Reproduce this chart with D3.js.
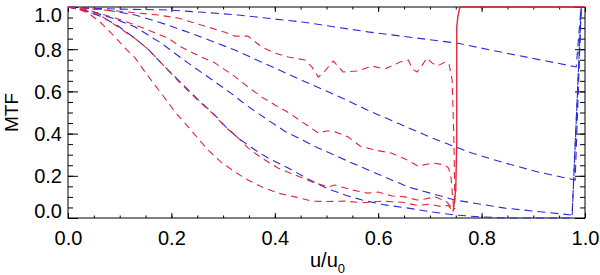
<!DOCTYPE html>
<html>
<head>
<meta charset="utf-8">
<script src="https://cdn.jsdelivr.net/npm/d3@7"></script>
<style>
  body { margin: 0; background: #fff; }
  svg { font-family: "Liberation Sans", Arial, sans-serif; }
</style>
</head>
<body>
<div id="chart"></div>
<script>
// ticks
const xMajor = [0, 0.2, 0.4, 0.6, 0.8, 1.0];
const yMajor = [0, 0.2, 0.4, 0.6, 0.8, 1.0];
const minorTicks = d3.range(0, 1.0001, 0.05).map((v) => +v.toFixed(2));

// theoretical curves (blue), [u/u0, MTF]
const blue1 = [[0, 1], [0.039, 0.995], [0.1, 0.99], [0.193, 0.986], [0.255, 0.976], [0.329, 0.962],
  [0.453, 0.929], [0.58, 0.882], [0.642, 0.863], [0.752, 0.829], [0.85, 0.78], [0.983, 0.716], [0.993, 1.02]];
const blue2 = [[0, 1], [0.064, 0.99], [0.13, 0.962], [0.193, 0.915], [0.257, 0.858], [0.323, 0.796],
  [0.387, 0.725], [0.453, 0.652], [0.52, 0.58], [0.588, 0.502], [0.646, 0.441], [0.704, 0.379],
  [0.781, 0.308], [0.845, 0.261], [0.909, 0.218], [0.981, 0.18], [0.993, 1.02]];
const blue3 = [[0, 1], [0.05, 0.975], [0.097, 0.938], [0.13, 0.905], [0.18, 0.829], [0.232, 0.735],
  [0.271, 0.668], [0.315, 0.592], [0.337, 0.55], [0.362, 0.505], [0.42, 0.41], [0.484, 0.332],
  [0.549, 0.261], [0.613, 0.194], [0.658, 0.147], [0.749, 0.085], [0.845, 0.047], [0.975, 0.014], [0.993, 1.02]];
const blue4 = [[0, 1], [0.03, 0.985], [0.064, 0.955], [0.097, 0.91], [0.13, 0.85], [0.155, 0.8],
  [0.18, 0.735], [0.213, 0.655], [0.25, 0.565], [0.283, 0.49], [0.304, 0.435], [0.329, 0.379],
  [0.362, 0.322], [0.387, 0.284], [0.426, 0.237], [0.464, 0.185], [0.503, 0.138], [0.536, 0.109],
  [0.569, 0.085], [0.613, 0.062], [0.658, 0.047], [0.7, 0.03], [0.749, 0.014], [0.8, 0.005],
  [0.845, 0], [0.975, 0], [0.993, 1.02]];

// measured curves (red)
const red1 = [[0, 1], [0.05, 0.99], [0.1, 0.98], [0.174, 0.962], [0.213, 0.948], [0.238, 0.929],
  [0.271, 0.905], [0.304, 0.88], [0.323, 0.862], [0.348, 0.862], [0.375, 0.81], [0.4, 0.782],
  [0.426, 0.763], [0.458, 0.749], [0.472, 0.715], [0.484, 0.668], [0.498, 0.7], [0.513, 0.744],
  [0.532, 0.692], [0.561, 0.697], [0.588, 0.72], [0.613, 0.706], [0.642, 0.739], [0.658, 0.749],
  [0.667, 0.705], [0.675, 0.692], [0.684, 0.72], [0.694, 0.758], [0.704, 0.735], [0.714, 0.72],
  [0.729, 0.739], [0.737, 0.73], [0.743, 0.654], [0.745, 0.5], [0.747, 0.3], [0.748, 0.1], [0.748, 0.04]];
const red2 = [[0, 1], [0.04, 0.985], [0.091, 0.948], [0.13, 0.915], [0.155, 0.891], [0.193, 0.853],
  [0.219, 0.81], [0.25, 0.772], [0.271, 0.749], [0.284, 0.735], [0.323, 0.67], [0.348, 0.621],
  [0.375, 0.573], [0.4, 0.536], [0.426, 0.5], [0.453, 0.455], [0.484, 0.403], [0.5, 0.412],
  [0.513, 0.412], [0.542, 0.384], [0.565, 0.341], [0.594, 0.322], [0.625, 0.308], [0.652, 0.28],
  [0.677, 0.246], [0.706, 0.261], [0.729, 0.251], [0.736, 0.237], [0.741, 0.19], [0.744, 0.1], [0.746, 0.04]];
const red3 = [[0, 1], [0.03, 0.985], [0.064, 0.958], [0.097, 0.905], [0.13, 0.85], [0.155, 0.8],
  [0.18, 0.735], [0.213, 0.65], [0.25, 0.56], [0.283, 0.488], [0.304, 0.432], [0.329, 0.38],
  [0.348, 0.332], [0.375, 0.284], [0.406, 0.237], [0.439, 0.204], [0.472, 0.171], [0.503, 0.147],
  [0.516, 0.156], [0.549, 0.133], [0.58, 0.118], [0.6, 0.123], [0.627, 0.104], [0.652, 0.1],
  [0.675, 0.085], [0.69, 0.09], [0.71, 0.1], [0.731, 0.08], [0.742, 0.05], [0.746, 0.035]];
const red4 = [[0, 1], [0.02, 0.99], [0.039, 0.972], [0.064, 0.924], [0.091, 0.858], [0.11, 0.806],
  [0.13, 0.758], [0.149, 0.692], [0.168, 0.63], [0.193, 0.55], [0.207, 0.502], [0.226, 0.45],
  [0.246, 0.393], [0.271, 0.322], [0.296, 0.265], [0.323, 0.218], [0.348, 0.18], [0.375, 0.147],
  [0.406, 0.118], [0.439, 0.1], [0.472, 0.08], [0.503, 0.078], [0.536, 0.08], [0.569, 0.072],
  [0.607, 0.08], [0.646, 0.075], [0.675, 0.06], [0.7, 0.065], [0.72, 0.055], [0.735, 0.06],
  [0.742, 0.04], [0.746, 0.03]];

// cutoff edge of the measured curves (solid red)
const redEdge = [[0.745, 0.03], [0.75, 0.133], [0.752, 0.37], [0.752, 0.905], [0.754, 0.953],
  [0.758, 1.0], [1.0, 1.0]];

const blueSeries = [blue1, blue2, blue3, blue4];
const redSeries = [red1, red2, red3, red4];

const W = 600, H = 275;
const margin = { left: 68, right: 585, top: 7, bottom: 218 };

const svg = d3.select("#chart").append("svg").attr("width", W).attr("height", H);

const x = d3.scaleLinear().domain([0, 1]).range([margin.left, margin.right]);
const y = d3.scaleLinear().domain([0, 1]).range([margin.bottom, margin.top]);

// frame
svg.append("rect")
  .attr("x", margin.left).attr("y", margin.top)
  .attr("width", margin.right - margin.left).attr("height", margin.bottom - margin.top)
  .attr("fill", "none").attr("stroke", "#000").attr("stroke-width", 1);

const styleAxis = (g) => {
  g.select(".domain").remove();
  g.selectAll("line").attr("stroke", "#000");
  g.selectAll("text").attr("font-size", 20).attr("fill", "#000")
    .attr("font-family", "'Liberation Sans', Arial, sans-serif");
};

// bottom axis
svg.append("g").attr("transform", `translate(0,${margin.bottom})`)
  .call(d3.axisBottom(x).tickValues(xMajor).tickSize(-5).tickPadding(13).tickFormat(d3.format(".1f")))
  .call(styleAxis);
svg.append("g").attr("transform", `translate(0,${margin.bottom})`)
  .call(d3.axisBottom(x).tickValues(minorTicks).tickSize(-2.5).tickFormat(""))
  .call(styleAxis);
// top axis
svg.append("g").attr("transform", `translate(0,${margin.top})`)
  .call(d3.axisTop(x).tickValues(xMajor).tickSize(-5).tickFormat(""))
  .call(styleAxis);
svg.append("g").attr("transform", `translate(0,${margin.top})`)
  .call(d3.axisTop(x).tickValues(minorTicks).tickSize(-2.5).tickFormat(""))
  .call(styleAxis);

// left axis
const yAx = svg.append("g").attr("transform", `translate(${margin.left},0)`)
  .call(d3.axisLeft(y).tickValues(yMajor).tickSize(-10).tickPadding(6).tickFormat(d3.format(".1f")))
  .call(styleAxis);
// end labels are pushed inside the frame
yAx.selectAll(".tick text").attr("dy", (d) => (d === 0 ? "-0.05em" : d === 1 ? "0.72em" : "0.35em"));
svg.append("g").attr("transform", `translate(${margin.left},0)`)
  .call(d3.axisLeft(y).tickValues(minorTicks).tickSize(-5).tickFormat(""))
  .call(styleAxis);
// right axis
svg.append("g").attr("transform", `translate(${margin.right},0)`)
  .call(d3.axisRight(y).tickValues(yMajor).tickSize(-10).tickFormat(""))
  .call(styleAxis);
svg.append("g").attr("transform", `translate(${margin.right},0)`)
  .call(d3.axisRight(y).tickValues(minorTicks).tickSize(-5).tickFormat(""))
  .call(styleAxis);

// curves
svg.append("clipPath").attr("id", "plotclip")
  .append("rect")
  .attr("x", margin.left - 1).attr("y", margin.top - 1)
  .attr("width", margin.right - margin.left + 2).attr("height", margin.bottom - margin.top + 2);

const line = d3.line().x((d) => x(d[0])).y((d) => y(d[1]));
const curves = svg.append("g").attr("clip-path", "url(#plotclip)");

blueSeries.forEach((s) => {
  curves.append("path").datum(s)
    .attr("fill", "none").attr("stroke", "#2a2ad8").attr("stroke-width", 1.1)
    .attr("stroke-dasharray", "8,5").attr("d", line);
});
redSeries.forEach((s) => {
  curves.append("path").datum(s)
    .attr("fill", "none").attr("stroke", "#e2243c").attr("stroke-width", 1.1)
    .attr("stroke-dasharray", "7,5").attr("d", line);
});
curves.append("path").datum(redEdge)
  .attr("fill", "none").attr("stroke", "#e2243c").attr("stroke-width", 1.4)
  .attr("d", line);

// axis titles
svg.append("text")
  .attr("transform", `translate(18,${(margin.top + margin.bottom) / 2}) rotate(-90)`)
  .attr("text-anchor", "middle").attr("font-size", 19).text("MTF");

const xt = svg.append("text")
  .attr("x", (margin.left + margin.right) / 2 + 1).attr("y", 267)
  .attr("text-anchor", "middle").attr("font-size", 20);
xt.append("tspan").text("u/u");
xt.append("tspan").attr("font-size", 13).attr("dy", 6).text("0");
</script>
</body>
</html>
